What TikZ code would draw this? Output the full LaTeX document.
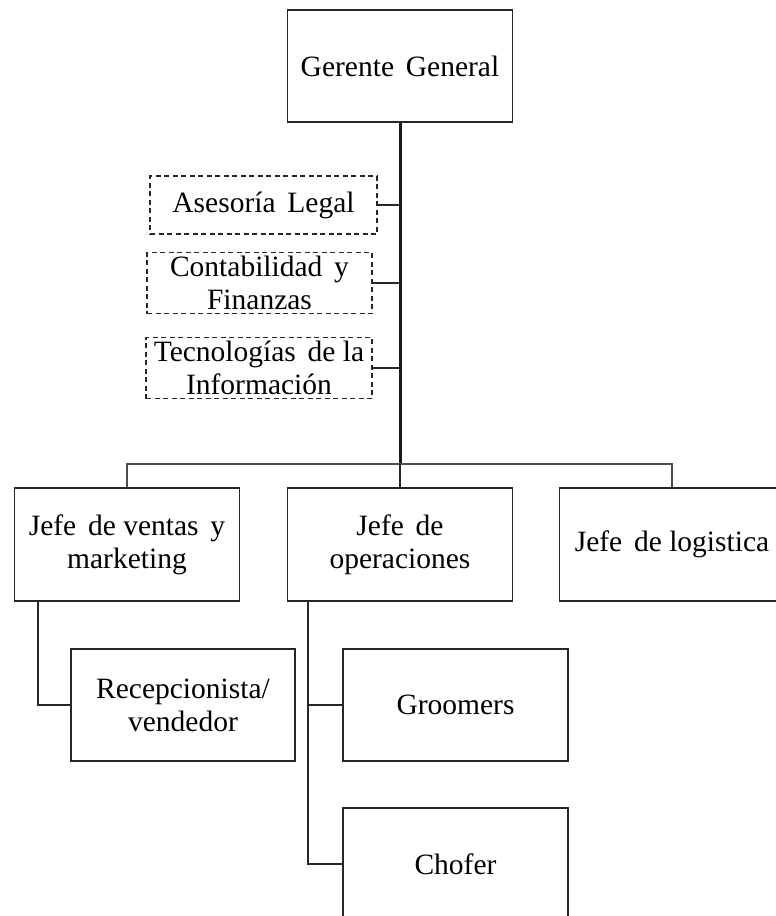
\documentclass[tikz,border=0pt]{standalone}
\usepackage{fontspec}
\setmainfont{Liberation Serif}
\newcommand\wgap{\hspace{0.4em}}
\begin{document}
\begin{tikzpicture}[x=1pt,y=-1pt,
  every node/.style={font=\fontsize{29.5}{33}\selectfont, text=black, align=center, inner sep=0pt},
  unit/.style={draw=black!85, line width=1.6pt, minimum width=225, minimum height=112},
  staff/.style={draw=black!85, line width=1.4pt, dash pattern=on 5pt off 3.5pt},
  link/.style={draw=black!85, line width=1.8pt},
  trunk/.style={draw=black!90, line width=3pt},
  bus/.style={draw=black!70, line width=2.2pt}]
  \useasboundingbox (0,0) rectangle (776,916);
  \clip (0,0) rectangle (776,916);

  % top management
  \node[unit] (gg) at (400,66) {Gerente\wgap General};

  % staff (advisory) units
  \node[staff, minimum width=227, minimum height=58] (legal) at (263.5,205) {Asesoría\wgap Legal};
  \node[staff, minimum width=225, minimum height=61] (conta) at (259.5,283) {Contabilidad\wgap y\\Finanzas};
  \node[staff, minimum width=226, minimum height=61] (tec) at (259,368) {Tecnologías\wgap de la\\Información};

  % department heads
  \node[unit, minimum height=113] (ventas) at (127,544.5) {Jefe\wgap de ventas\wgap y\\marketing};
  \node[unit, minimum height=113] (oper) at (400,544.5) {Jefe\wgap de\\operaciones};
  \node[unit, minimum height=113] (logi) at (672,544.5) {Jefe\wgap de logistica};

  % staff under each head
  \node[unit, minimum width=224] (recep) at (183,705) {Recepcionista/\\vendedor};
  \node[unit] (groom) at (455.5,705) {Groomers};
  \node[unit] (chofer) at (455.5,864) {Chofer};

  % main line from the general manager down to the bus
  \coordinate (busmid) at (400,464);
  \draw[trunk] (gg.south) -- (busmid);

  % advisory branches
  \draw[link] (legal.east) -- (legal.east -| gg.south);
  \draw[link] (conta.east) -- (conta.east -| gg.south);
  \draw[link] (tec.east) -- (tec.east -| gg.south);

  % bus to the department heads
  \draw[bus] (ventas.north) |- (busmid) -| (logi.north);
  \draw[link] (oper.north) -- (oper.north |- busmid);

  % subordinate links
  \coordinate (vdrop) at ([xshift=-89]ventas.south);
  \coordinate (odrop) at ([xshift=-92]oper.south);
  \draw[link] (vdrop) |- (recep.west);
  \draw[link] (odrop) |- (groom.west);
  \draw[link] (odrop) |- (chofer.west);
\end{tikzpicture}
\end{document}
